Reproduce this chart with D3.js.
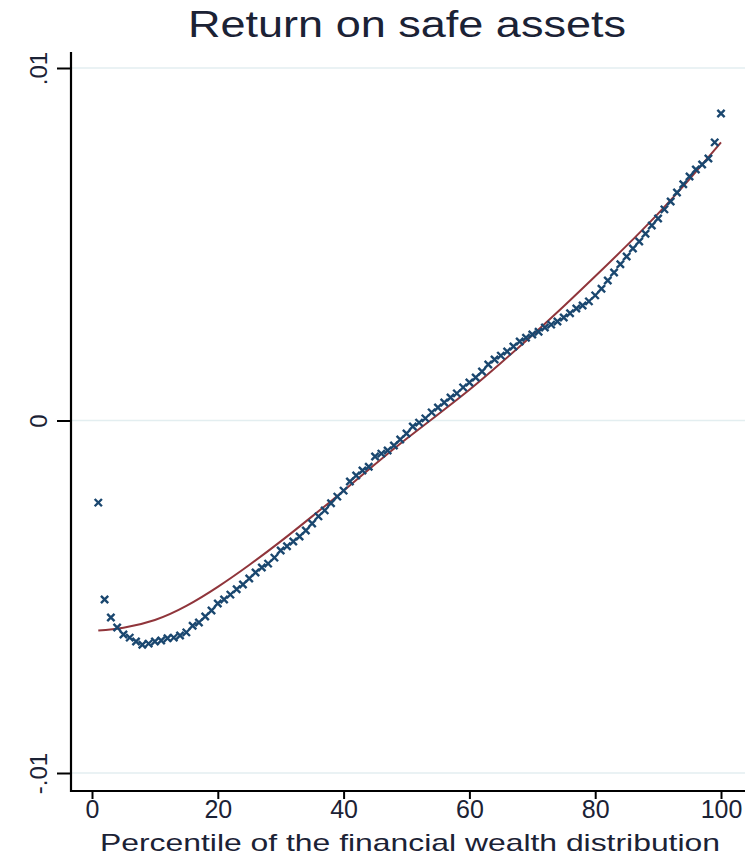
<!DOCTYPE html>
<html>
<head>
<meta charset="utf-8">
<script src="https://cdn.jsdelivr.net/npm/d3@7"></script>
<style>
  html, body { margin: 0; padding: 0; background: #fff; }
  svg { display: block; }
  text { font-family: "Liberation Sans", Arial, Helvetica, sans-serif; }
</style>
</head>
<body>
<svg id="chart" width="748" height="855"></svg>
<script>
// ---- data ----
const percentiles = d3.range(1, 101);
const returnSafe = [
  -0.00233, -0.00508, -0.00559, -0.00587, -0.00607, -0.00616, -0.00627, -0.00636, -0.00633, -0.00627,
  -0.00624, -0.00618, -0.00616, -0.00610, -0.00601, -0.00582, -0.00573, -0.00556, -0.00539, -0.00519,
  -0.00508, -0.00494, -0.00479, -0.00465, -0.00448, -0.00431, -0.00417, -0.00406, -0.00389, -0.00369,
  -0.00357, -0.00343, -0.00329, -0.00312, -0.00292, -0.00272, -0.00255, -0.00235, -0.00216, -0.00199,
  -0.00173, -0.00156, -0.00142, -0.00131, -0.00102, -0.00094, -0.00085, -0.00071, -0.00054, -0.00037,
  -0.00017, -0.00006, 0.00006, 0.00023, 0.00037, 0.00051, 0.00065, 0.00077, 0.00094, 0.00108,
  0.00122, 0.00139, 0.00159, 0.00173, 0.00184, 0.00196, 0.00210, 0.00224, 0.00235, 0.00244,
  0.00252, 0.00264, 0.00272, 0.00281, 0.00292, 0.00304, 0.00318, 0.00326, 0.00338, 0.00355,
  0.00374, 0.00397, 0.00420, 0.00443, 0.00465, 0.00488, 0.00508, 0.00530, 0.00553, 0.00573,
  0.00599, 0.00621, 0.00647, 0.00670, 0.00692, 0.00712, 0.00726, 0.00743, 0.00789, 0.00871
];
const fitX = [1, 5, 10, 15, 20, 25, 30, 35, 40, 45, 50, 55, 60, 65, 70, 75, 80, 85, 90, 95, 100];
const fitY = [
  -0.00596, -0.00588, -0.00566, -0.00526, -0.00472, -0.00410, -0.00343, -0.00272, -0.00199, -0.00124,
  -0.00052, 0.00017, 0.00087, 0.00163, 0.00242, 0.00324, 0.00409, 0.00496, 0.00587, 0.00685, 0.00789
];
const xTicks = [0, 20, 40, 60, 80, 100];
const yTicks = [-0.01, 0, 0.01];
const yTickLabels = ["-.01", "0", ".01"];
const titleText = "Return on safe assets";
const xTitleText = "Percentile of the financial wealth distribution";

// ---- layout ----
const svg = d3.select("#chart");
const plot = { left: 71, right: 745, top: 52, bottom: 791 };
const x = d3.scaleLinear().domain([0, 100]).range([92, 721]);
const y = d3.scaleLinear().domain([-0.01, 0.01]).range([773, 68]);

const navy = "#1a476f";
const maroon = "#90353b";
const textColor = "#1b2235";

// gridlines
svg.append("g").selectAll("line").data(yTicks).join("line")
  .attr("x1", plot.left).attr("x2", plot.right)
  .attr("y1", d => y(d)).attr("y2", d => y(d))
  .attr("stroke", "#e3eef0").attr("stroke-width", 1.5);

// axes
const xAxis = d3.axisBottom(x).tickValues(xTicks).tickSize(8).tickPadding(1).tickFormat(d3.format("d"));
const gx = svg.append("g").attr("transform", `translate(0,${plot.bottom})`).call(xAxis);
gx.select(".domain").remove();
gx.selectAll(".tick line").attr("stroke", "#000").attr("stroke-width", 2);
gx.selectAll(".tick text").attr("font-size", 25).attr("fill", textColor)
  .attr("font-family", "'Liberation Sans', Arial, sans-serif");

const yAxis = d3.axisLeft(y).tickValues(yTicks).tickSize(14)
  .tickFormat((d, i) => yTickLabels[i]);
const gy = svg.append("g").attr("transform", `translate(${plot.left},0)`).call(yAxis);
gy.select(".domain").remove();
gy.selectAll(".tick line").attr("stroke", "#000").attr("stroke-width", 2);
gy.selectAll(".tick text")
  .attr("font-size", 24).attr("fill", textColor)
  .attr("font-family", "'Liberation Sans', Arial, sans-serif")
  .attr("x", null).attr("dy", null)
  .attr("text-anchor", "middle")
  .attr("transform", "translate(-24,0) rotate(-90)");

// axis lines
svg.append("line").attr("x1", plot.left).attr("x2", plot.left)
  .attr("y1", plot.top).attr("y2", plot.bottom + 1)
  .attr("stroke", "#000").attr("stroke-width", 2.2);
svg.append("line").attr("x1", plot.left - 1).attr("x2", plot.right)
  .attr("y1", plot.bottom).attr("y2", plot.bottom)
  .attr("stroke", "#000").attr("stroke-width", 2.2);

// fitted line
const line = d3.line().x((d, i) => x(fitX[i])).y(d => y(d)).curve(d3.curveNatural);
svg.append("path").datum(fitY).attr("d", line)
  .attr("fill", "none").attr("stroke", maroon).attr("stroke-width", 2);

// scatter markers
const sym = d3.symbol().type(d3.symbolX).size(36);
svg.append("g").selectAll("path").data(returnSafe).join("path")
  .attr("transform", (d, i) => `translate(${x(percentiles[i])},${y(d)})`)
  .attr("d", sym)
  .attr("fill", "none").attr("stroke", navy).attr("stroke-width", 2.4);

// titles
svg.append("text").attr("x", 407).attr("y", 37).attr("text-anchor", "middle")
  .attr("font-size", 36).attr("fill", textColor)
  .attr("textLength", 438).attr("lengthAdjust", "spacingAndGlyphs")
  .text(titleText);
svg.append("text").attr("x", 410).attr("y", 851).attr("text-anchor", "middle")
  .attr("font-size", 24).attr("fill", textColor)
  .attr("textLength", 620).attr("lengthAdjust", "spacingAndGlyphs")
  .text(xTitleText);
</script>
</body>
</html>
